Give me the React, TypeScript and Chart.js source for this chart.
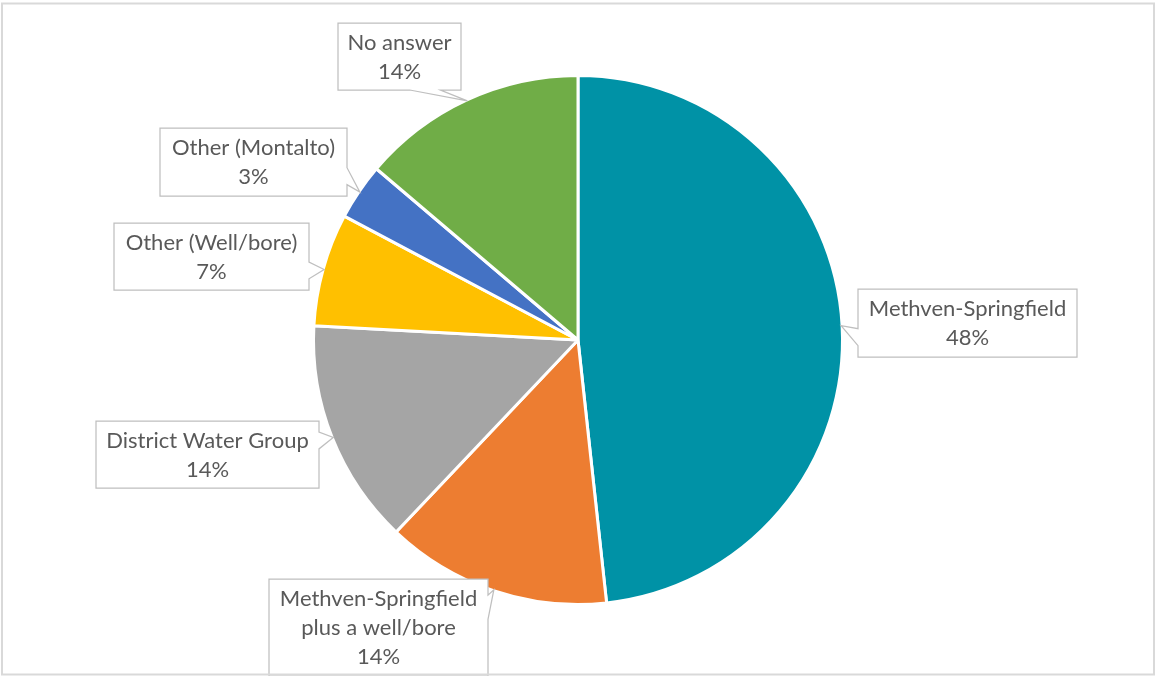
import React, { useEffect, useRef } from "react";
import { Chart, registerables } from "chart.js";

Chart.register(...registerables);

// ---- data ----
const categories = [
  "Methven-Springfield",
  "Methven-Springfield plus a well/bore",
  "District Water Group",
  "Other (Well/bore)",
  "Other (Montalto)",
  "No answer",
];
const labelLines = [
  ["Methven-Springfield"],
  ["Methven-Springfield", "plus a well/bore"],
  ["District Water Group"],
  ["Other (Well/bore)"],
  ["Other (Montalto)"],
  ["No answer"],
];
const counts = [14, 4, 4, 2, 1, 4];
const sliceColors = ["#0092A6", "#ED7D31", "#A5A5A5", "#FFC000", "#4472C4", "#70AD47"];

// ---- layout (callout boxes: left, top, width, height) ----
const calloutBoxes = [
  { l: 858, t: 289, w: 219, h: 68 },
  { l: 269, t: 579, w: 219, h: 97 },
  { l: 96, t: 421, w: 223, h: 67 },
  { l: 114, t: 223, w: 195, h: 67 },
  { l: 160, t: 128, w: 187, h: 68 },
  { l: 338, t: 23, w: 123, h: 67 },
];

const FONT = "22px Lato, 'Noto Sans', sans-serif";
const TEXT_COLOR = "#595959";
const LINE_H = 29;

function calloutPath(ctx: CanvasRenderingContext2D, b: any, tx: number, ty: number) {
  const { l, t, w, h } = b;
  const r = l + w;
  const bt = t + h;
  const hc = l + w / 2;
  const vc = t + h / 2;
  const dx = tx - hc;
  const dy = ty - vc;
  const dq = (dx * h) / w;
  const vertical = Math.abs(dy) > Math.abs(dq);
  const xg1 = dx > 0 ? 7 : 2;
  const xg2 = dx > 0 ? 10 : 5;
  const yg1 = dy > 0 ? 7 : 2;
  const yg2 = dy > 0 ? 10 : 5;
  const x1 = l + (w * xg1) / 12;
  const x2 = l + (w * xg2) / 12;
  const y1 = t + (h * yg1) / 12;
  const y2 = t + (h * yg2) / 12;
  ctx.beginPath();
  ctx.moveTo(l, t);
  if (vertical && dy < 0) {
    ctx.lineTo(x1, t);
    ctx.lineTo(tx, ty);
    ctx.lineTo(x2, t);
  }
  ctx.lineTo(r, t);
  if (!vertical && dx > 0) {
    ctx.lineTo(r, y1);
    ctx.lineTo(tx, ty);
    ctx.lineTo(r, y2);
  }
  ctx.lineTo(r, bt);
  if (vertical && dy > 0) {
    ctx.lineTo(x2, bt);
    ctx.lineTo(tx, ty);
    ctx.lineTo(x1, bt);
  }
  ctx.lineTo(l, bt);
  if (!vertical && dx < 0) {
    ctx.lineTo(l, y2);
    ctx.lineTo(tx, ty);
    ctx.lineTo(l, y1);
  }
  ctx.closePath();
}

const calloutPlugin = {
  id: "callouts",
  afterDatasetsDraw(chart: any) {
    const ctx: CanvasRenderingContext2D = chart.ctx;
    const meta = chart.getDatasetMeta(0);
    const data = chart.data.datasets[0].data as number[];
    const total = data.reduce((a, b) => a + b, 0);
    ctx.save();
    meta.data.forEach((arc: any, i: number) => {
      const p = arc.getProps(["x", "y", "startAngle", "endAngle", "outerRadius"], true);
      const mid = (p.startAngle + p.endAngle) / 2;
      const rr = p.outerRadius - 1;
      const tx = p.x + rr * Math.cos(mid);
      const ty = p.y + rr * Math.sin(mid);
      const b = calloutBoxes[i];
      calloutPath(ctx, b, tx, ty);
      ctx.fillStyle = "#ffffff";
      ctx.fill();
      ctx.strokeStyle = "#bfbfbf";
      ctx.lineWidth = 1.25;
      ctx.stroke();
      const lines = [...labelLines[i], Math.round((data[i] / total) * 100) + "%"];
      ctx.font = FONT;
      ctx.fillStyle = TEXT_COLOR;
      ctx.textAlign = "center";
      ctx.textBaseline = "middle";
      const cx = b.l + b.w / 2;
      const startY = b.t + 20;
      lines.forEach((ln, k) => {
        ctx.fillText(ln, cx, startY + k * LINE_H);
      });
    });
    ctx.restore();
  },
};

const framePlugin = {
  id: "frame",
  beforeDraw(chart: any) {
    const ctx: CanvasRenderingContext2D = chart.ctx;
    ctx.save();
    ctx.fillStyle = "#ffffff";
    ctx.fillRect(0, 0, chart.width, chart.height);
    ctx.restore();
  },
  afterDraw(chart: any) {
    const ctx: CanvasRenderingContext2D = chart.ctx;
    ctx.save();
    ctx.strokeStyle = "#d9d9d9";
    ctx.lineWidth = 2;
    ctx.strokeRect(2, 3.5, chart.width - 3, chart.height - 5);
    ctx.restore();
  },
};

export default function App() {
  const ref = useRef<HTMLCanvasElement | null>(null);
  useEffect(() => {
    if (!ref.current) return;
    const chart = new Chart(ref.current, {
      type: "pie",
      data: {
        labels: categories,
        datasets: [
          {
            data: counts,
            backgroundColor: sliceColors,
            borderColor: "#ffffff",
            borderWidth: 3,
          },
        ],
      },
      options: {
        responsive: false,
        animation: false,
        devicePixelRatio: 1,
        layout: { padding: { left: 312, right: 311, top: 74, bottom: 70 } },
        plugins: {
          legend: { display: false },
          tooltip: { enabled: false },
        },
      },
      plugins: [framePlugin, calloutPlugin],
    });
    return () => chart.destroy();
  }, []);
  return (
    <div style={{ position: "fixed", left: 0, top: 0, width: 1155, height: 676, background: "#fff" }}>
      <canvas ref={ref} width={1155} height={676} style={{ display: "block" }} />
    </div>
  );
}
